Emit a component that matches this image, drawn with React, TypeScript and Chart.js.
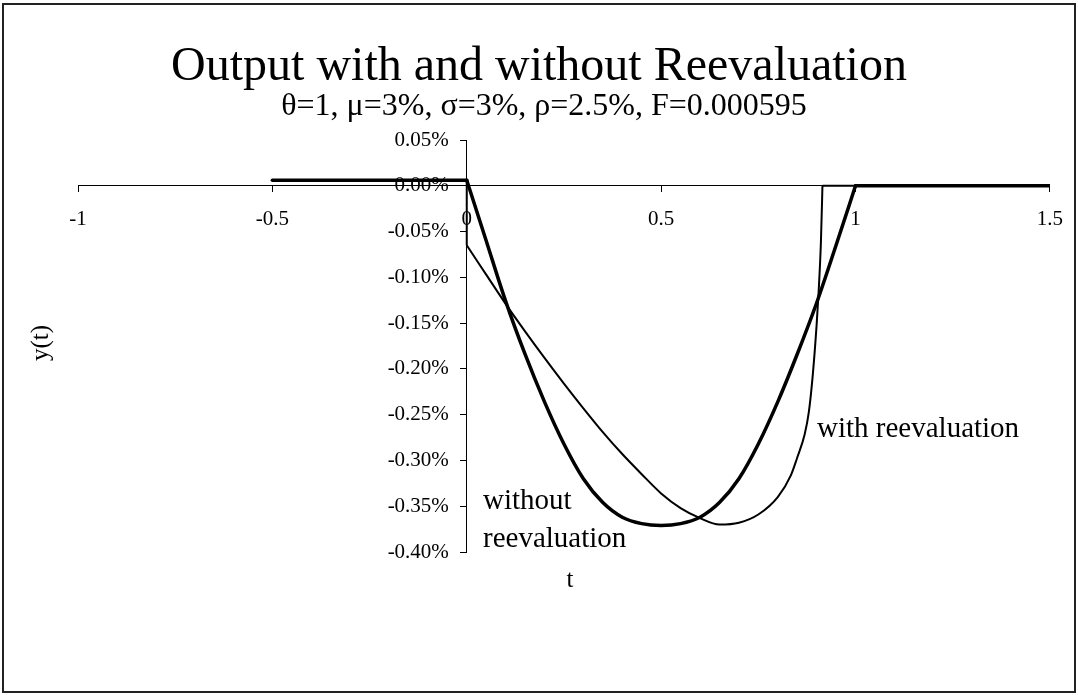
import React, { useEffect, useRef } from 'react';
import { Chart, registerables } from 'chart.js';

Chart.register(...registerables);

const TITLE = 'Output with and without Reevaluation';
const SUBTITLE = 'θ=1, μ=3%, σ=3%, ρ=2.5%, F=0.000595';
const X_TITLE = 't';
const Y_TITLE = 'y(t)';
const LABEL_WITH = 'with reevaluation';
const LABEL_WITHOUT = ['without', 'reevaluation'];

// axis ranges (t, and y(t) in percent)
const xRange = [-1, 1.5];
const xStep = 0.5;
const yRange = [-0.4, 0.05];
const yStep = 0.05;

// "without reevaluation" (thick)
const withoutPreT = [-0.5, 0];
const withoutPreY = [0.006, 0.006];
const withoutT = [0, 0.05, 0.1, 0.15, 0.2, 0.25, 0.3, 0.35, 0.4, 0.45, 0.5, 0.55, 0.6, 0.65, 0.7, 0.75, 0.8, 0.85, 0.9, 0.95, 1.0];
const withoutY = [0.006, -0.06, -0.126, -0.184, -0.236, -0.282, -0.32, -0.346, -0.362, -0.369, -0.371, -0.369, -0.362, -0.346, -0.32, -0.282, -0.236, -0.184, -0.128, -0.065, 0];
const withoutPostT = [1.0, 1.5];
const withoutPostY = [0, 0];

// "with reevaluation" (thin)
const withJumpT = [0, 0];
const withJumpY = [0.006, -0.065];
const withT = [0, 0.05, 0.1, 0.15, 0.2, 0.25, 0.3, 0.35, 0.4, 0.45, 0.5, 0.55, 0.6, 0.65, 0.7, 0.75, 0.8, 0.834, 0.85, 0.869, 0.88, 0.89, 0.9, 0.905, 0.911, 0.915];
const withY = [-0.065, -0.097, -0.129, -0.159, -0.188, -0.216, -0.243, -0.269, -0.293, -0.315, -0.336, -0.352, -0.363, -0.37, -0.368, -0.359, -0.34, -0.316, -0.297, -0.272, -0.247, -0.207, -0.152, -0.117, -0.062, 0];
const withPostT = [0.915, 1.5];
const withPostY = [0, 0];

const FONT = '"Liberation Serif", "Times New Roman", serif';

const pts = (xs: number[], ys: number[]) => xs.map((x, i) => ({ x, y: ys[i] }));

const textPlugin = {
  id: 'texts',
  afterDraw(chart: any) {
    const ctx = chart.ctx as CanvasRenderingContext2D;
    ctx.save();
    ctx.fillStyle = '#000';
    ctx.textBaseline = 'alphabetic';
    ctx.textAlign = 'center';
    ctx.font = `48px ${FONT}`;
    ctx.fillText(TITLE, 539, 80);
    ctx.font = `32px ${FONT}`;
    ctx.fillText(SUBTITLE, 544, 115);
    ctx.font = `25px ${FONT}`;
    ctx.fillText(X_TITLE, 570, 587);
    ctx.save();
    ctx.translate(41, 343);
    ctx.rotate(-Math.PI / 2);
    ctx.textBaseline = 'middle';
    ctx.fillText(Y_TITLE, 0, 0);
    ctx.restore();
    ctx.textAlign = 'left';
    ctx.font = `29px ${FONT}`;
    ctx.fillText(LABEL_WITH, 817, 437);
    ctx.fillText(LABEL_WITHOUT[0], 483, 509);
    ctx.fillText(LABEL_WITHOUT[1], 483, 547);
    ctx.strokeStyle = '#222';
    ctx.lineWidth = 2;
    ctx.strokeRect(3, 4, 1072, 688);
    ctx.restore();
  },
};

export default function App() {
  const ref = useRef<HTMLCanvasElement | null>(null);
  useEffect(() => {
    if (!ref.current) return;
    const thick = { borderColor: '#000', borderWidth: 3.5, pointRadius: 0, showLine: true, fill: false };
    const thin = { borderColor: '#000', borderWidth: 2, pointRadius: 0, showLine: true, fill: false };
    const yTicks = {
      stepSize: yStep,
      color: '#000',
      font: { family: FONT, size: 21 },
      callback: (v: any) => Number(v).toFixed(2) + '%',
    };
    const chart = new Chart(ref.current, {
      type: 'scatter',
      data: {
        datasets: [
          { ...thin, label: 'with jump', data: pts(withJumpT, withJumpY) },
          { ...thin, label: 'with reevaluation', data: pts(withT, withY), cubicInterpolationMode: 'monotone' },
          { ...thin, label: 'with tail', data: pts(withPostT, withPostY) },
          { ...thick, label: 'without pre', data: pts(withoutPreT, withoutPreY), borderCapStyle: 'round' },
          { ...thick, label: 'without reevaluation', data: pts(withoutT, withoutY), cubicInterpolationMode: 'monotone', borderCapStyle: 'round' },
          { ...thick, label: 'without tail', data: pts(withoutPostT, withoutPostY), borderCapStyle: 'round' },
        ] as any,
      },
      options: {
        animation: false,
        responsive: false,
        devicePixelRatio: 1,
        layout: { padding: { left: 78, right: 25, top: 140, bottom: 143 } },
        plugins: { legend: { display: false }, title: { display: false }, tooltip: { enabled: false } },
        scales: {
          x: {
            type: 'linear',
            position: { y: 0 } as any,
            min: xRange[0],
            max: xRange[1],
            grid: { display: true, drawOnChartArea: false, drawTicks: true, tickLength: 6, color: '#000' },
            border: { display: true, color: '#000', width: 1 },
            ticks: {
              stepSize: xStep,
              color: '#000',
              padding: 15,
              maxRotation: 0,
              font: { family: FONT, size: 21 },
              callback: (v: any) => String(Number(v)),
            },
          },
          y: {
            type: 'linear',
            position: { x: 0 } as any,
            min: yRange[0],
            max: yRange[1],
            grid: { display: true, drawOnChartArea: false, drawTicks: true, tickLength: 6, color: '#000' },
            border: { display: true, color: '#000', width: 1 },
            ticks: { ...yTicks, display: false },
          },
          yLabels: {
            type: 'linear',
            axis: 'y',
            position: { x: -0.046 } as any,
            min: yRange[0],
            max: yRange[1],
            grid: { display: false },
            border: { display: false },
            ticks: yTicks,
          },
        } as any,
      },
      plugins: [textPlugin],
    });
    return () => chart.destroy();
  }, []);
  return (
    <div style={{ position: 'fixed', left: 0, top: 0, width: 1078, height: 695, background: '#fff' }}>
      <canvas ref={ref} width={1078} height={695} style={{ display: 'block' }} />
    </div>
  );
}
